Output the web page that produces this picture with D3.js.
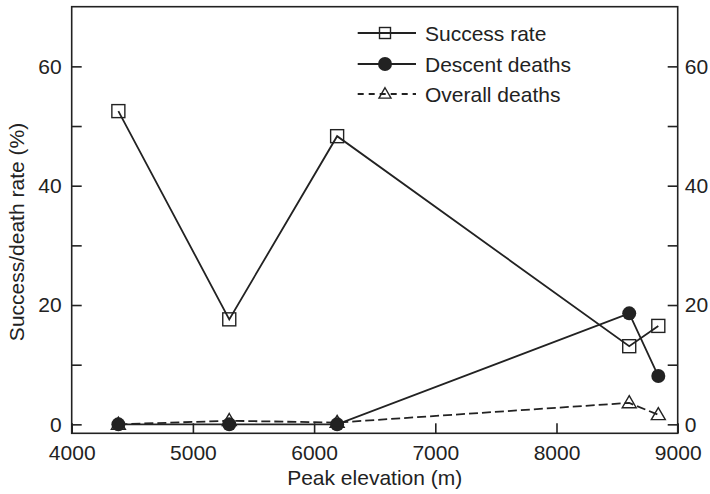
<!DOCTYPE html>
<html>
<head>
<meta charset="utf-8">
<script src="https://cdn.jsdelivr.net/npm/d3@7"></script>
<style>
  html, body { margin: 0; padding: 0; background: #fff; }
  svg text { font-family: "Liberation Sans", Arial, Helvetica, sans-serif; fill: #222; }
</style>
</head>
<body>
<svg id="chart" width="710" height="494"></svg>
<script>
// Peak elevation (m) for each peak
const elevations = [4385, 5300, 6190, 8600, 8840];
// Rates in percent
const successRate   = [52.5, 17.6, 48.3, 13.1, 16.5];
const descentDeaths = [0, 0, 0, 18.6, 8.1];
const overallDeaths = [0, 0.6, 0.3, 3.6, 1.6];

const xTicks = [4000, 5000, 6000, 7000, 8000, 9000];
const yMajorTicks = [0, 20, 40, 60];
const yMinorTicks = [10, 30, 50];

const legendItems = ["Success rate", "Descent deaths", "Overall deaths"];

const margin = { left: 71.7, right: 32.3, top: 6.7, bottom: 60.7 };
const W = 710, H = 494;
const svg = d3.select("#chart");

const x = d3.scaleLinear().domain([4000, 9000]).range([margin.left, W - margin.right]);
const y = d3.scaleLinear().domain([-1.5, 70]).range([H - margin.bottom, margin.top]);

const ink = "#222";
const fs = 21;

// Frame
svg.append("rect")
  .attr("x", x.range()[0]).attr("y", y.range()[1])
  .attr("width", x.range()[1] - x.range()[0])
  .attr("height", y.range()[0] - y.range()[1])
  .attr("fill", "none").attr("stroke", ink).attr("stroke-width", 1.6);

// Axes with inward ticks
const tickLen = 10;
const yTickVals = yMajorTicks.concat(yMinorTicks);
const yFmt = d => yMajorTicks.includes(d) ? d : "";
const bottomAxis = d3.axisBottom(x).tickValues(xTicks).tickSize(-tickLen).tickPadding(12).tickFormat(d3.format("d"));
const leftAxis = d3.axisLeft(y).tickValues(yTickVals).tickSize(-tickLen).tickPadding(10).tickFormat(yFmt);
const rightAxis = d3.axisRight(y).tickValues(yTickVals).tickSize(-tickLen).tickPadding(7).tickFormat(yFmt);

function styleAxis(g) {
  g.select(".domain").remove();
  g.selectAll(".tick line").attr("stroke", ink).attr("stroke-width", 1.6);
  g.selectAll(".tick text").attr("font-size", fs).attr("fill", ink)
    .style("font-family", "'Liberation Sans', Arial, sans-serif");
}

svg.append("g").attr("transform", `translate(0,${y.range()[0]})`).call(bottomAxis).call(styleAxis);
svg.append("g").attr("transform", `translate(${x.range()[0]},0)`).call(leftAxis).call(styleAxis);
svg.append("g").attr("transform", `translate(${x.range()[1]},0)`).call(rightAxis).call(styleAxis);

// Axis titles
svg.append("text")
  .attr("x", (x.range()[0] + x.range()[1]) / 2).attr("y", 485)
  .attr("text-anchor", "middle").attr("font-size", fs)
  .text("Peak elevation (m)");
svg.append("text")
  .attr("transform", `translate(24,${(y.range()[0] + y.range()[1]) / 2 + 12}) rotate(-90)`)
  .attr("text-anchor", "middle").attr("font-size", fs)
  .text("Success/death rate (%)");

// Series
const line = d3.line().x(d => x(d[0])).y(d => y(d[1]));
const sw = 1.8;

const succ = elevations.map((e, i) => [e, successRate[i]]);
const desc = elevations.map((e, i) => [e, descentDeaths[i]]);
const over = elevations.map((e, i) => [e, overallDeaths[i]]);

svg.append("path").datum(over).attr("d", line)
  .attr("fill", "none").attr("stroke", ink).attr("stroke-width", sw).attr("stroke-dasharray", "9,4");
svg.append("path").datum(desc).attr("d", line)
  .attr("fill", "none").attr("stroke", ink).attr("stroke-width", sw);
svg.append("path").datum(succ).attr("d", line)
  .attr("fill", "none").attr("stroke", ink).attr("stroke-width", sw);

function square(g, cx, cy, s) {
  g.append("rect").attr("x", cx - s / 2).attr("y", cy - s / 2).attr("width", s).attr("height", s)
    .attr("fill", "none").attr("stroke", ink).attr("stroke-width", 1.4);
}
function circle(g, cx, cy, r) {
  g.append("circle").attr("cx", cx).attr("cy", cy).attr("r", r).attr("fill", ink);
}
function triangle(g, cx, cy, s) {
  const h = s * Math.sqrt(3) / 2;
  g.append("path")
    .attr("d", `M${cx},${cy - h * 0.6}L${cx + s / 2},${cy + h * 0.4}L${cx - s / 2},${cy + h * 0.4}Z`)
    .attr("fill", "none").attr("stroke", ink).attr("stroke-width", 1.4);
}

const marks = svg.append("g");
succ.forEach(d => square(marks, x(d[0]), y(d[1]), 13));
desc.forEach(d => circle(marks, x(d[0]), y(d[1]), 7));
over.forEach(d => triangle(marks, x(d[0]), y(d[1]), 14));

// Legend
const lg = svg.append("g");
const lx0 = 357.7, lx1 = 416, lmx = 385, ltx = 425;
const rows = [33, 64, 94];
legendItems.forEach((name, i) => {
  const ly = rows[i];
  lg.append("line").attr("x1", lx0).attr("x2", lx1).attr("y1", ly).attr("y2", ly)
    .attr("stroke", ink).attr("stroke-width", sw)
    .attr("stroke-dasharray", i === 2 ? "6,5" : null);
  if (i === 0) square(lg, lmx, ly, 11);
  if (i === 1) circle(lg, lmx, ly, 7);
  if (i === 2) triangle(lg, lmx, ly, 12);
  lg.append("text").attr("x", ltx).attr("y", ly + 7.5).attr("font-size", fs).text(name);
});
</script>
</body>
</html>
